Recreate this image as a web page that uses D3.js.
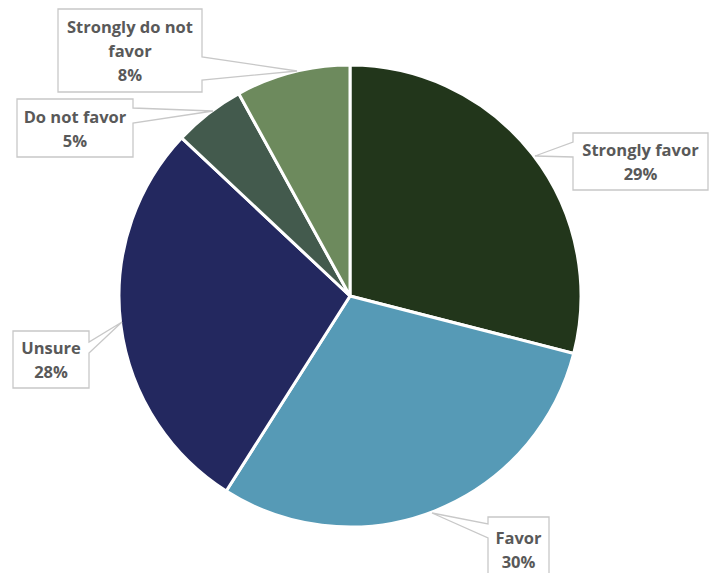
<!DOCTYPE html>
<html>
<head>
<meta charset="utf-8">
<script src="https://cdn.jsdelivr.net/npm/d3@7"></script>
<style>
  html, body { margin: 0; padding: 0; background: #ffffff; }
  svg { display: block; }
  .lbl { font-family: "Open Sans", "Liberation Sans", sans-serif; font-weight: 700; fill: #595959; font-size: 16.5px; }
</style>
</head>
<body>
<svg id="chart" width="711" height="573"></svg>
<script>
// Survey responses, clockwise from 12 o'clock
const categories = ["Strongly favor", "Favor", "Unsure", "Do not favor", "Strongly do not favor"];
const values = [29, 30, 28, 5, 8];
const colors = ["#22361b", "#569ab6", "#23285f", "#435a4d", "#6d8a5d"];

// Callout boxes: box rect, side the pointer leaves from, pointer base span, tip point, text lines
const callouts = [
  { box: [573, 133, 135, 57], side: "left",  base: [142, 157], tip: [535, 156], lines: ["Strongly favor"] },
  { box: [488, 517, 61, 70],  side: "left",  base: [524, 538], tip: [432, 513], lines: ["Favor"] },
  { box: [13, 331, 76, 57],   side: "right", base: [342, 353], tip: [122, 322], lines: ["Unsure"] },
  { box: [17, 99, 116, 58],   side: "right", base: [108, 123], tip: [213, 111], lines: ["Do not favor"] },
  { box: [58, 9, 144, 83],    side: "right", base: [57, 80],   tip: [297, 71],  lines: ["Strongly do not", "favor"] }
];

const svg = d3.select("#chart");
const cx = 350, cy = 296, R = 231;

const pie = d3.pie().sort(null).value(d => d.value);
const arc = d3.arc().innerRadius(0).outerRadius(R);
const data = categories.map((c, i) => ({ name: c, value: values[i], color: colors[i] }));

const g = svg.append("g").attr("transform", `translate(${cx},${cy})`);
g.selectAll("path")
  .data(pie(data))
  .join("path")
  .attr("d", arc)
  .attr("fill", d => d.data.color)
  .attr("stroke", "#ffffff")
  .attr("stroke-width", 3)
  .attr("stroke-linejoin", "round");

const total = d3.sum(values);
const pct = d3.format(".0%");

// Rectangle with a wedge pointer on one side
function calloutPath(c) {
  const [x, y, w, h] = c.box;
  const [b0, b1] = c.base;
  const [tx, ty] = c.tip;
  if (c.side === "left") {
    return `M${x},${y} H${x + w} V${y + h} H${x} V${b1} L${tx},${ty} L${x},${b0} Z`;
  }
  return `M${x},${y} H${x + w} V${b0} L${tx},${ty} L${x + w},${b1} V${y + h} H${x} Z`;
}

const lab = svg.append("g");
callouts.forEach((c, i) => {
  lab.append("path")
    .attr("d", calloutPath(c))
    .attr("fill", "#ffffff")
    .attr("stroke", "#c8c8c8")
    .attr("stroke-width", 1.3);
  const [x, y, w, h] = c.box;
  const lines = c.lines.concat([pct(values[i] / total)]);
  const lh = 24;
  const midX = x + w / 2;
  let top;
  if (c.lines[0] === "Favor") top = y + 20;
  else top = y + h / 2 - (lines.length - 1) * lh / 2;
  lines.forEach((t, k) => {
    lab.append("text")
      .attr("class", "lbl")
      .attr("x", midX)
      .attr("y", top + k * lh)
      .attr("text-anchor", "middle")
      .attr("dominant-baseline", "central")
      .text(t);
  });
});
</script>
</body>
</html>
